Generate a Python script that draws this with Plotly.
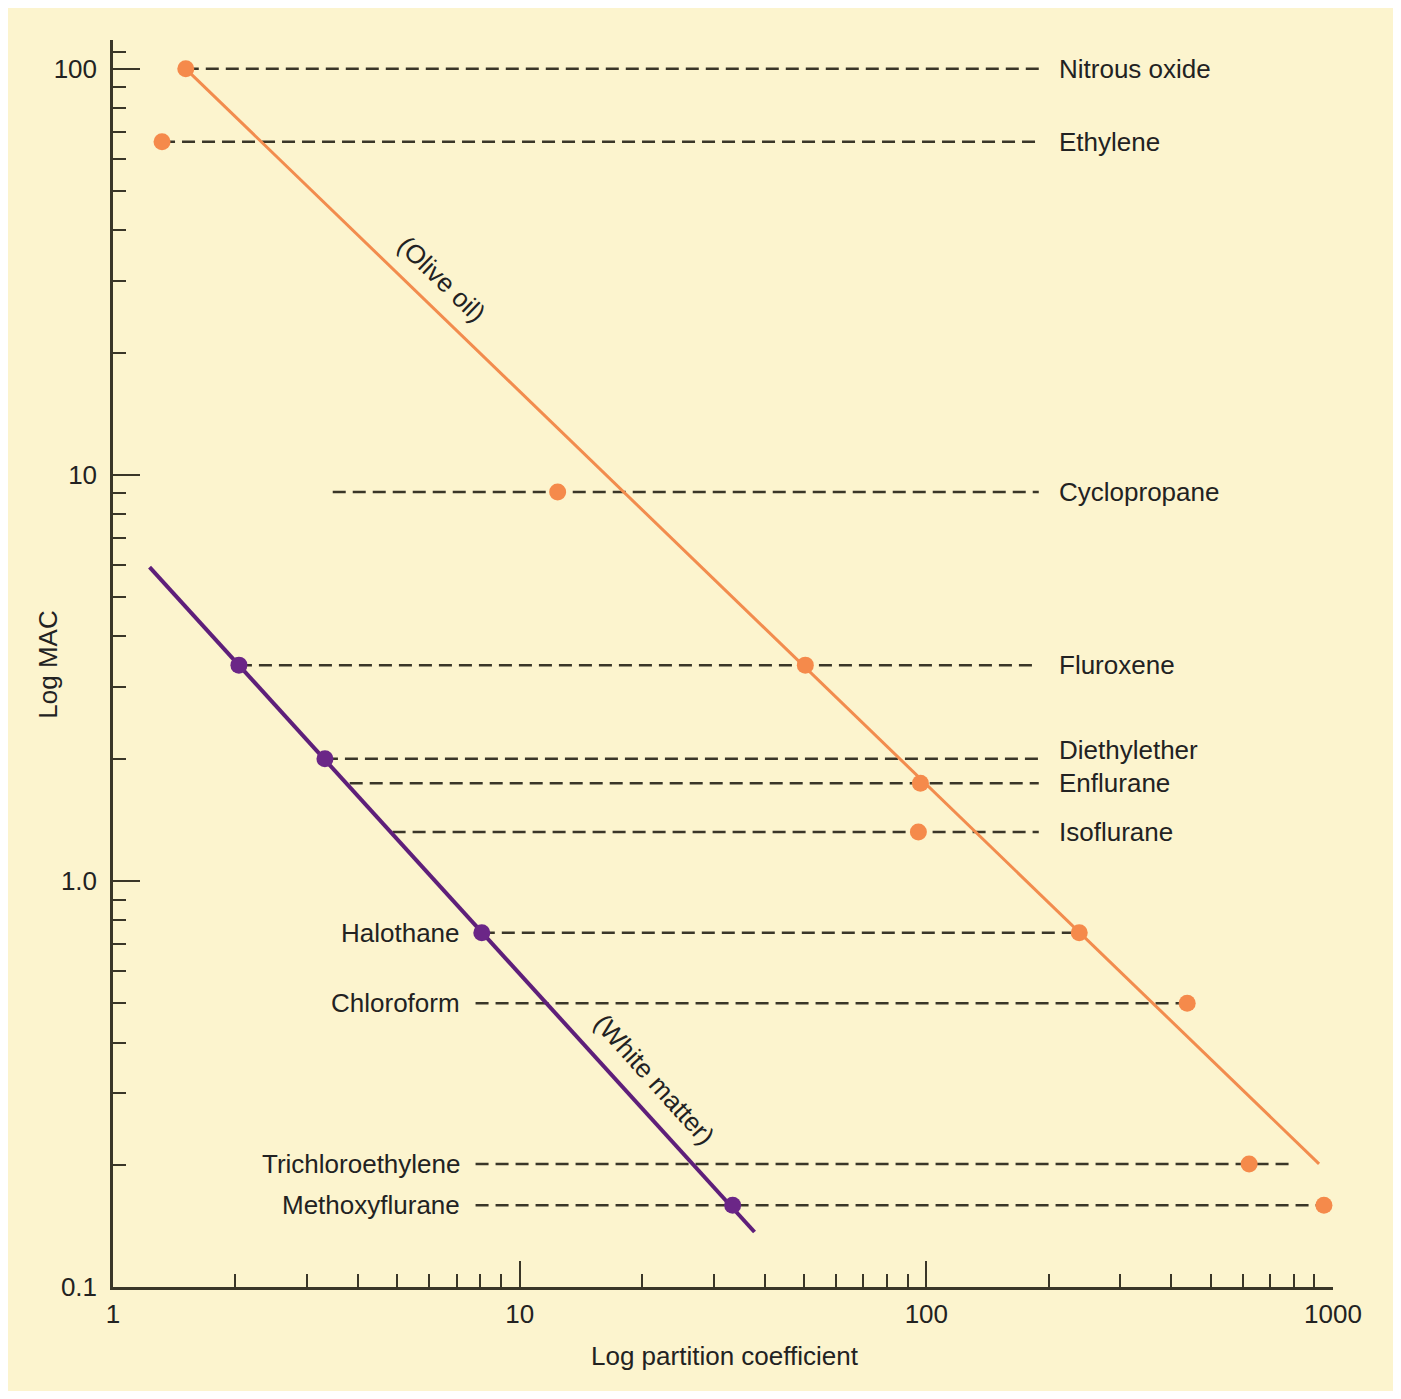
import math
import plotly.graph_objects as go

# ---------------- data ----------------
agents = ["Nitrous oxide", "Ethylene", "Cyclopropane", "Fluroxene", "Diethylether",
          "Enflurane", "Isoflurane", "Halothane", "Chloroform", "Trichloroethylene",
          "Methoxyflurane"]
mac = [100, 66.1, 9.08, 3.40, 2.00, 1.74, 1.32, 0.745, 0.50, 0.201, 0.159]
oil_coef = [1.51, 1.32, 12.4, 50.4, None, 96.7, 95.6, 237.7, 438, 622, 950]
white_coef = [None, None, None, 2.04, 3.32, None, None, 8.07, None, None, 33.4]
dash_start = [1.51, 1.32, 3.47, 2.04, 3.32, 3.82, 4.87, 8.07, 7.79, 7.79, 7.79]
dash_end = [189, 189, 189, 189, 189, 189, 189, 237.7, 438, 802, 950]
label_side = ["right"] * 7 + ["left"] * 4
label_y = [100, 66.1, 9.08, 3.40, 2.10, 1.74, 1.32, 0.745, 0.50, 0.201, 0.159]
label_x_right = 210
label_x_left = 7.2

olive_line_x = [1.51, 924]
olive_line_y = [100, 0.201]
white_line_x = [1.23, 37.8]
white_line_y = [5.93, 0.1366]

line_labels = ["(Olive oil)", "(White matter)"]
line_label_x = [6.43, 21.5]
line_label_y = [30.4, 0.324]
line_label_angle = [44, 48]

x_tickvals = [1, 10, 100, 1000]
x_ticktext = ["1", "10", "100", "1000"]
y_tickvals = [0.1, 1, 10, 100]
y_ticktext = ["0.1", "1.0", "10", "100"]

# ---------------- styling ----------------
BG = "#FCF4CE"
ORANGE = "#F58A4B"
ORANGE_LINE = "#F28C4E"
PURPLE = "#6B2687"
PURPLE_LINE = "#5E1F7A"
DARK = "#3A3628"
TEXT = "#222222"
FONT = "Liberation Sans, Arial, Helvetica, sans-serif"

lg = math.log10

fig = go.Figure()

# dashed horizontal guide lines
for i, name in enumerate(agents):
    fig.add_trace(go.Scatter(
        x=[dash_start[i], dash_end[i]], y=[mac[i], mac[i]],
        mode="lines", line=dict(color=DARK, width=2.5, dash="13px,7px"),
        hoverinfo="skip", showlegend=False))

# regression lines
fig.add_trace(go.Scatter(x=olive_line_x, y=olive_line_y, mode="lines",
                         line=dict(color=ORANGE_LINE, width=3), showlegend=False))
fig.add_trace(go.Scatter(x=white_line_x, y=white_line_y, mode="lines",
                         line=dict(color=PURPLE_LINE, width=4), showlegend=False))

# markers
ox = [x for x in oil_coef if x is not None]
oy = [m for x, m in zip(oil_coef, mac) if x is not None]
wx = [x for x in white_coef if x is not None]
wy = [m for x, m in zip(white_coef, mac) if x is not None]
fig.add_trace(go.Scatter(x=ox, y=oy, mode="markers",
                         marker=dict(color=ORANGE, size=17), showlegend=False))
fig.add_trace(go.Scatter(x=wx, y=wy, mode="markers",
                         marker=dict(color=PURPLE, size=17), showlegend=False))

# agent labels (annotation coords on log axes are given in log10 units)
for i, name in enumerate(agents):
    right = label_side[i] == "right"
    fig.add_annotation(x=lg(label_x_right if right else label_x_left), y=lg(label_y[i]),
                       xref="x", yref="y", text=name, showarrow=False,
                       xanchor="left" if right else "right", yanchor="middle",
                       font=dict(size=26, color=TEXT, family=FONT))

# line labels
for t, x, y, a in zip(line_labels, line_label_x, line_label_y, line_label_angle):
    fig.add_annotation(x=lg(x), y=lg(y), xref="x", yref="y", text=t,
                       showarrow=False, textangle=a,
                       font=dict(size=26, color=TEXT, family=FONT))

# axis titles
fig.add_annotation(x=0.502, y=-0.0553, xref="paper", yref="paper",
                   text="Log partition coefficient", showarrow=False,
                   xanchor="center", yanchor="middle",
                   font=dict(size=26, color=TEXT, family=FONT))
fig.add_annotation(x=-0.0533, y=0.499, xref="paper", yref="paper",
                   text="Log MAC", showarrow=False, textangle=-90,
                   xanchor="center", yanchor="middle",
                   font=dict(size=26, color=TEXT, family=FONT))

x_minor = [m * d for d in (1, 10, 100) for m in range(2, 10)]
y_minor = [m * d for d in (0.1, 1, 10) for m in range(2, 10)] + [110]

# page body has an 8px margin; compensate so the plot area lands at 113..1333 x 40..1287
W, H = 1385, 1383
L, T = 105, 32
pw, ph = 1220, 1247
R, B = W - L - pw, H - T - ph

fig.update_layout(
    width=W, height=H,
    margin=dict(l=L, r=R, t=T, b=B),
    paper_bgcolor=BG, plot_bgcolor=BG,
    font=dict(family=FONT, color=TEXT),
    showlegend=False,
    xaxis=dict(type="log", range=[0, 3], showgrid=False, zeroline=False,
               showline=True, linecolor=DARK, linewidth=2.5,
               ticks="inside", ticklen=26, tickwidth=2, tickcolor=DARK,
               tickvals=x_tickvals, ticktext=x_ticktext,
               tickfont=dict(size=26, color=TEXT, family=FONT),
               ticklabelstandoff=2,
               minor=dict(tickvals=x_minor, ticks="inside", ticklen=13,
                          tickwidth=2, tickcolor=DARK, showgrid=False)),
    yaxis=dict(type="log", range=[-1, 2.071], showgrid=False, zeroline=False,
               showline=True, linecolor=DARK, linewidth=2.5,
               ticks="inside", ticklen=27, tickwidth=2, tickcolor=DARK,
               tickvals=y_tickvals, ticktext=y_ticktext,
               tickfont=dict(size=26, color=TEXT, family=FONT),
               ticklabelstandoff=8,
               minor=dict(tickvals=y_minor, ticks="inside", ticklen=13,
                          tickwidth=2, tickcolor=DARK, showgrid=False)),
)

fig.write_html("out.html")
